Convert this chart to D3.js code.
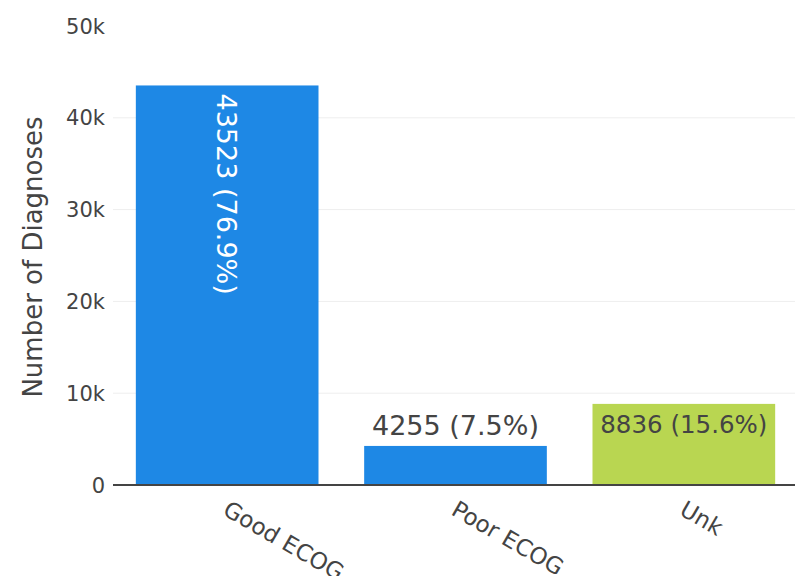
<!DOCTYPE html>
<html>
<head>
<meta charset="utf-8">
<script src="https://cdn.jsdelivr.net/npm/d3@7"></script>
<style>
  html, body { margin: 0; padding: 0; background: #fff; }
  svg { display: block; font-family: "DejaVu Sans", Verdana, sans-serif; }
</style>
</head>
<body>
<svg id="chart" width="795" height="576"></svg>
<script>
// ---- data ----
const categories = ["Good ECOG", "Poor ECOG", "Unk"];
const counts = [43523, 4255, 8836];
const percents = ["76.9%", "7.5%", "15.6%"];
const barColors = ["#1e88e5", "#1e88e5", "#b9d651"];
const yTicks = [0, 10000, 20000, 30000, 40000, 50000];
const yTickLabels = ["0", "10k", "20k", "30k", "40k", "50k"];
const yTitle = "Number of Diagnoses";

// ---- layout ----
const W = 795, H = 576;
const plot = { left: 113, right: 798, top: 26, bottom: 485 };
const svg = d3.select("#chart");

const x = d3.scaleBand().domain(categories).range([plot.left, plot.right]).paddingInner(0.2).paddingOuter(0.1);
const y = d3.scaleLinear().domain([0, 50000]).range([plot.bottom, plot.top]);

// gridlines
svg.append("g").selectAll("line")
  .data(yTicks.filter(t => t > 0 && t < 50000))
  .join("line")
  .attr("x1", plot.left).attr("x2", W)
  .attr("y1", d => y(d)).attr("y2", d => y(d))
  .attr("stroke", "#eeeeee").attr("stroke-width", 1);

// y tick labels
svg.append("g").selectAll("text")
  .data(yTicks)
  .join("text")
  .attr("x", 105)
  .attr("y", d => y(d))
  .attr("dy", "0.36em")
  .attr("text-anchor", "end")
  .attr("fill", "#444")
  .attr("font-size", 21)
  .text((d, i) => yTickLabels[i]);

// bars
svg.append("g").selectAll("rect")
  .data(categories)
  .join("rect")
  .attr("x", d => x(d))
  .attr("width", x.bandwidth())
  .attr("y", (d, i) => y(counts[i]))
  .attr("height", (d, i) => y(0) - y(counts[i]))
  .attr("fill", (d, i) => barColors[i]);

// zero line
svg.append("line")
  .attr("x1", plot.left).attr("x2", W)
  .attr("y1", y(0)).attr("y2", y(0))
  .attr("stroke", "#444").attr("stroke-width", 2);

// bar labels
const labelText = i => `${counts[i]} (${percents[i]})`;
const cx = d => x(d) + x.bandwidth() / 2;
// Good: inside, rotated
svg.append("text")
  .attr("transform", `translate(${cx(categories[0])},${y(counts[0]) + 8}) rotate(90)`)
  .attr("dy", "0.36em")
  .attr("text-anchor", "start")
  .attr("fill", "#fff")
  .attr("font-size", 27)
  .text(labelText(0));
// Poor: outside, above
svg.append("text")
  .attr("x", cx(categories[1]))
  .attr("y", y(counts[1]) - 11)
  .attr("text-anchor", "middle")
  .attr("fill", "#444")
  .attr("font-size", 27)
  .text(labelText(1));
// Unk: inside at top
svg.append("text")
  .attr("x", cx(categories[2]))
  .attr("y", y(counts[2]) + 29)
  .attr("text-anchor", "middle")
  .attr("fill", "#444")
  .attr("font-size", 24.5)
  .text(labelText(2));

// x tick labels, rotated
svg.append("g").selectAll("text")
  .data(categories)
  .join("text")
  .attr("transform", d => `translate(${cx(d) + 3},${plot.bottom + 14}) rotate(30)`)
  .attr("dy", "0.75em")
  .attr("text-anchor", "start")
  .attr("fill", "#444")
  .attr("font-size", 23)
  .text(d => d);

// y axis title
svg.append("text")
  .attr("transform", `translate(33,257) rotate(-90)`)
  .attr("dy", "0.36em")
  .attr("text-anchor", "middle")
  .attr("fill", "#444")
  .attr("font-size", 26)
  .text(yTitle);
</script>
</body>
</html>
